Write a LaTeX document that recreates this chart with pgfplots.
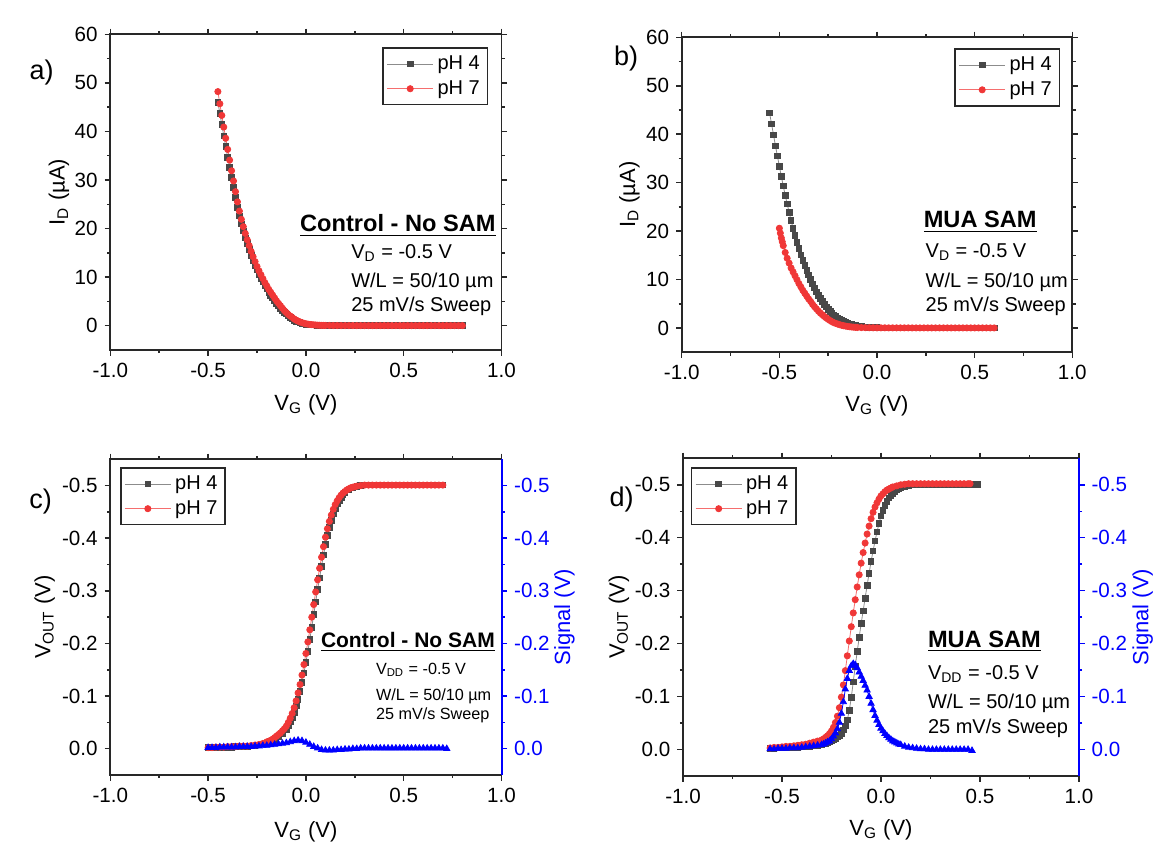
\documentclass[border=0pt]{standalone}
\usepackage{fontspec}
\setmainfont{Liberation Sans}
\usepackage{pgfplots}
\pgfplotsset{compat=1.18}
\definecolor{pgray}{RGB}{72,72,72}
\definecolor{pgrayl}{RGB}{140,140,140}
\definecolor{pred}{RGB}{240,55,55}
\definecolor{predl}{RGB}{245,110,110}
\definecolor{pblue}{RGB}{0,0,255}
\definecolor{axc}{RGB}{40,40,40}
\newcommand\pxy[2]{(#1*0.5pt, 423.5pt-#2*0.5pt)}
\pgfplotsset{
  panel/.style={
    scale only axis,
    xmin=-1, xmax=1,
    xtick={-1,-0.5,0,0.5,1},
    xticklabels={-1.0,-0.5,0.0,0.5,1.0},
    minor x tick num=1, minor y tick num=1,
    tick align=outside,
    major tick length=2.8pt, minor tick length=1.6pt,
    axis line style={axc, line width=0.9pt},
    after end axis/.append code={\draw[axc, line width=0.9pt] (rel axis cs:0,1) -- (rel axis cs:1,1) -- (rel axis cs:1,0);},
    tick style={axc, line width=0.75pt},
    tick label style={font=\fontsize{10.3}{12}\selectfont},
    label style={font=\fontsize{11}{13}\selectfont},
    xlabel={V\textsubscript{G} (V)},
    legend style={draw=axc, line width=0.75pt, font=\fontsize{10}{12}\selectfont, inner sep=1.8pt, cells={anchor=west}},
    legend cell align=left,
    legend image code/.code={\draw[mark repeat=2,mark phase=2,#1] plot coordinates {(0pt,0pt) (11.5pt,0pt) (23pt,0pt)};},
  },
  idpanel/.style={ymin=-5, ymax=60, ytick={0,10,20,30,40,50,60}, yticklabels={0,10,20,30,40,50,60}, ylabel={I\textsubscript{D} (µA)}},
  vpanel/.style={ymin=-0.55, ymax=0.05, y dir=reverse, ytick={-0.5,-0.4,-0.3,-0.2,-0.1,0}, yticklabels={-0.5,-0.4,-0.3,-0.2,-0.1,0.0}, ytick pos=left, ylabel={V\textsubscript{OUT} (V)}},
  sigaxis/.style={scale only axis, xmin=-1, xmax=1, ymin=-0.55, ymax=0.05, y dir=reverse,
    axis x line=none, axis y line*=right,
    ytick={-0.5,-0.4,-0.3,-0.2,-0.1,0}, yticklabels={-0.5,-0.4,-0.3,-0.2,-0.1,0.0},
    minor y tick num=1, tick align=outside, major tick length=2.8pt, minor tick length=1.6pt,
    y axis line style={-, pblue, line width=1pt},
    ytick style={pblue, line width=0.75pt},
    yticklabel style={pblue, font=\fontsize{10.3}{12}\selectfont},
    ylabel={Signal (V)}, ylabel style={pblue, font=\fontsize{11}{13}\selectfont, at={(axis description cs:1.161,0.5)}, anchor=center, rotate=0}},
  gr/.style={color=pgrayl, line width=0.4pt, mark=square*, mark size=1.4pt, mark options={solid, fill=pgray, draw=pgray}},
  rd/.style={color=predl, line width=0.4pt, mark=*, mark size=1.55pt, mark options={solid, fill=pred, draw=pred}},
  bl/.style={color=pblue, line width=0.4pt, mark=triangle*, mark size=1.8pt},
}
\begin{document}
\begin{tikzpicture}
\useasboundingbox (0,0) rectangle (580pt,423.5pt);

% ---------------- panel a ----------------
\begin{axis}[panel, idpanel, at={(55.15pt,248.5pt)}, anchor=south west, width=195.6pt, height=157.85pt,
  ylabel style={at={(axis description cs:-0.131,0.5)}, anchor=center},
  xlabel style={at={(axis description cs:0.5,-0.174)}, anchor=center},
  legend style={at={(0.966,0.959)}, anchor=north east}]
\addplot[gr] coordinates {(-0.45,46.0)(-0.44,43.7)(-0.43,41.4)(-0.42,39.1)(-0.41,36.9)(-0.40,34.7)(-0.39,32.6)(-0.38,30.5)(-0.37,28.5)(-0.36,26.4)(-0.35,24.4)(-0.34,22.6)(-0.33,21.0)(-0.32,19.5)(-0.31,18.1)(-0.30,16.9)(-0.29,15.7)(-0.28,14.5)(-0.27,13.4)(-0.26,12.4)(-0.25,11.5)(-0.24,10.6)(-0.23,9.8)(-0.22,9.0)(-0.21,8.3)(-0.20,7.6)(-0.19,6.9)(-0.18,6.3)(-0.17,5.7)(-0.16,5.1)(-0.15,4.6)(-0.14,4.1)(-0.13,3.6)(-0.12,3.2)(-0.11,2.8)(-0.10,2.4)(-0.09,2.0)(-0.08,1.7)(-0.07,1.4)(-0.06,1.15)(-0.05,0.95)(-0.04,0.78)(-0.03,0.63)(-0.02,0.50)(-0.01,0.40)(0.00,0.32)(0.02,0.20)(0.04,0.13)(0.06,0.09)(0.08,0.06)(0.10,0.05)(0.14,0.04)(0.18,0.03)(0.22,0.03)(0.26,0.02)(0.30,0.02)(0.34,0.02)(0.38,0.02)(0.42,0.02)(0.46,0.02)(0.50,0.02)(0.54,0.02)(0.58,0.02)(0.62,0.02)(0.66,0.02)(0.70,0.02)(0.74,0.02)(0.78,0.02)(0.80,0.02)};
\addlegendentry{pH 4}
\addplot[rd] coordinates {(-0.45,48.2)(-0.44,45.7)(-0.43,43.3)(-0.42,40.9)(-0.41,38.6)(-0.40,36.3)(-0.39,34.1)(-0.38,31.9)(-0.37,29.8)(-0.36,27.6)(-0.35,25.5)(-0.34,23.6)(-0.33,21.9)(-0.32,20.4)(-0.31,19.0)(-0.30,17.7)(-0.29,16.5)(-0.28,15.3)(-0.27,14.2)(-0.26,13.2)(-0.25,12.2)(-0.24,11.3)(-0.23,10.5)(-0.22,9.7)(-0.21,8.9)(-0.20,8.2)(-0.19,7.5)(-0.18,6.9)(-0.17,6.3)(-0.16,5.7)(-0.15,5.1)(-0.14,4.6)(-0.13,4.1)(-0.12,3.6)(-0.11,3.1)(-0.10,2.7)(-0.09,2.3)(-0.08,2.0)(-0.07,1.7)(-0.06,1.4)(-0.05,1.15)(-0.04,0.95)(-0.03,0.78)(-0.02,0.63)(-0.01,0.50)(0.00,0.40)(0.01,0.33)(0.02,0.27)(0.03,0.22)(0.04,0.18)(0.05,0.15)(0.06,0.12)(0.07,0.10)(0.08,0.08)(0.09,0.07)(0.10,0.06)(0.12,0.05)(0.14,0.04)(0.16,0.04)(0.18,0.03)(0.20,0.03)(0.22,0.03)(0.24,0.03)(0.26,0.02)(0.28,0.02)(0.30,0.02)(0.32,0.02)(0.34,0.02)(0.36,0.02)(0.38,0.02)(0.40,0.02)(0.42,0.02)(0.44,0.02)(0.46,0.02)(0.48,0.02)(0.50,0.02)(0.52,0.02)(0.54,0.02)(0.56,0.02)(0.58,0.02)(0.60,0.02)(0.62,0.02)(0.64,0.02)(0.66,0.02)(0.68,0.02)(0.70,0.02)(0.72,0.02)(0.74,0.02)(0.76,0.02)(0.78,0.02)(0.80,0.02)};
\addlegendentry{pH 7}
\end{axis}

% ---------------- panel b ----------------
\begin{axis}[panel, idpanel, at={(340.85pt,247.35pt)}, anchor=south west, width=195.3pt, height=157.5pt,
  ylabel style={at={(axis description cs:-0.134,0.5)}, anchor=center},
  xlabel style={at={(axis description cs:0.5,-0.170)}, anchor=center},
  legend style={at={(0.969,0.965)}, anchor=north east}]
\addplot[gr] coordinates {(-0.55,44.4)(-0.54,42.1)(-0.53,39.9)(-0.52,37.6)(-0.51,35.5)(-0.50,33.4)(-0.49,31.3)(-0.48,29.3)(-0.47,27.4)(-0.46,25.6)(-0.45,23.9)(-0.44,22.2)(-0.43,20.6)(-0.42,19.1)(-0.41,17.7)(-0.40,16.4)(-0.39,15.1)(-0.38,14.0)(-0.37,12.9)(-0.36,11.9)(-0.35,11.0)(-0.34,10.0)(-0.33,9.1)(-0.32,8.3)(-0.31,7.5)(-0.30,6.8)(-0.29,6.1)(-0.28,5.5)(-0.27,4.9)(-0.26,4.4)(-0.25,3.9)(-0.24,3.45)(-0.23,3.05)(-0.22,2.7)(-0.21,2.35)(-0.20,2.05)(-0.19,1.8)(-0.18,1.55)(-0.17,1.35)(-0.16,1.15)(-0.15,1.0)(-0.14,0.85)(-0.13,0.72)(-0.12,0.62)(-0.11,0.53)(-0.10,0.45)(-0.09,0.38)(-0.08,0.32)(-0.07,0.27)(-0.06,0.23)(-0.05,0.19)(-0.04,0.16)(-0.02,0.12)(0.00,0.09)(0.02,0.07)(0.04,0.06)(0.06,0.05)(0.10,0.04)(0.14,0.03)(0.18,0.03)(0.22,0.03)(0.26,0.03)(0.30,0.03)(0.34,0.03)(0.38,0.03)(0.42,0.03)(0.46,0.03)(0.50,0.03)(0.54,0.03)(0.58,0.03)(0.60,0.03)};
\addlegendentry{pH 4}
\addplot[rd] coordinates {(-0.50,20.6)(-0.495,19.6)(-0.49,18.6)(-0.485,17.8)(-0.48,17.0)(-0.47,15.6)(-0.46,14.4)(-0.45,13.4)(-0.44,12.4)(-0.43,11.6)(-0.42,10.8)(-0.41,10.0)(-0.40,9.2)(-0.39,8.5)(-0.38,7.8)(-0.37,7.2)(-0.36,6.6)(-0.35,6.0)(-0.34,5.5)(-0.33,4.9)(-0.32,4.4)(-0.31,3.95)(-0.30,3.5)(-0.29,3.1)(-0.28,2.75)(-0.27,2.4)(-0.26,2.1)(-0.25,1.8)(-0.24,1.55)(-0.23,1.3)(-0.22,1.1)(-0.21,0.95)(-0.20,0.8)(-0.19,0.68)(-0.18,0.57)(-0.17,0.48)(-0.16,0.40)(-0.15,0.33)(-0.14,0.27)(-0.13,0.22)(-0.12,0.18)(-0.11,0.15)(-0.10,0.12)(-0.08,0.10)(-0.06,0.08)(-0.04,0.07)(-0.02,0.06)(0.00,0.05)(0.02,0.05)(0.04,0.05)(0.06,0.04)(0.08,0.04)(0.10,0.04)(0.12,0.04)(0.14,0.04)(0.16,0.04)(0.18,0.03)(0.20,0.03)(0.22,0.03)(0.24,0.03)(0.26,0.03)(0.28,0.03)(0.30,0.03)(0.32,0.03)(0.34,0.03)(0.36,0.03)(0.38,0.03)(0.40,0.03)(0.42,0.03)(0.44,0.03)(0.46,0.03)(0.48,0.03)(0.50,0.03)(0.52,0.03)(0.54,0.03)(0.56,0.03)(0.58,0.03)(0.60,0.03)};
\addlegendentry{pH 7}
\end{axis}

% ---------------- panel c ----------------
\begin{axis}[panel, vpanel, at={(55.15pt,36pt)}, anchor=south west, width=195.6pt, height=157.85pt,
  ylabel style={at={(axis description cs:-0.168,0.5)}, anchor=center},
  xlabel style={at={(axis description cs:0.5,-0.18)}, anchor=center},
  legend style={at={(0.025,0.975)}, anchor=north west}]
\addplot[gr] coordinates {(-0.50,-0.002)(-0.48,-0.002)(-0.46,-0.002)(-0.44,-0.003)(-0.42,-0.003)(-0.40,-0.003)(-0.38,-0.003)(-0.36,-0.004)(-0.34,-0.004)(-0.32,-0.004)(-0.30,-0.004)(-0.28,-0.005)(-0.26,-0.005)(-0.24,-0.007)(-0.22,-0.009)(-0.20,-0.011)(-0.18,-0.014)(-0.16,-0.018)(-0.14,-0.023)(-0.12,-0.029)(-0.10,-0.037)(-0.09,-0.044)(-0.08,-0.052)(-0.07,-0.060)(-0.06,-0.069)(-0.05,-0.081)(-0.04,-0.094)(-0.03,-0.109)(-0.02,-0.126)(-0.01,-0.144)(0.00,-0.164)(0.01,-0.185)(0.02,-0.208)(0.03,-0.231)(0.04,-0.255)(0.05,-0.279)(0.06,-0.303)(0.07,-0.325)(0.08,-0.347)(0.09,-0.368)(0.10,-0.388)(0.11,-0.405)(0.12,-0.421)(0.13,-0.434)(0.14,-0.446)(0.15,-0.457)(0.16,-0.465)(0.17,-0.472)(0.18,-0.478)(0.19,-0.483)(0.20,-0.487)(0.22,-0.492)(0.24,-0.496)(0.26,-0.498)(0.28,-0.500)(0.30,-0.501)(0.34,-0.501)(0.38,-0.501)(0.42,-0.501)(0.46,-0.501)(0.50,-0.501)(0.54,-0.501)(0.58,-0.501)(0.62,-0.501)(0.66,-0.501)(0.70,-0.501)};
\addlegendentry{pH 4}
\addplot[rd] coordinates {(-0.50,-0.002)(-0.48,-0.002)(-0.46,-0.003)(-0.44,-0.003)(-0.42,-0.003)(-0.40,-0.004)(-0.38,-0.004)(-0.36,-0.004)(-0.34,-0.005)(-0.32,-0.005)(-0.30,-0.005)(-0.28,-0.006)(-0.26,-0.007)(-0.24,-0.008)(-0.22,-0.010)(-0.20,-0.013)(-0.19,-0.014)(-0.18,-0.016)(-0.17,-0.018)(-0.16,-0.021)(-0.15,-0.024)(-0.14,-0.027)(-0.13,-0.030)(-0.12,-0.034)(-0.11,-0.038)(-0.10,-0.043)(-0.09,-0.050)(-0.08,-0.058)(-0.07,-0.067)(-0.06,-0.078)(-0.05,-0.091)(-0.04,-0.106)(-0.03,-0.122)(-0.02,-0.140)(-0.01,-0.160)(0.00,-0.181)(0.01,-0.203)(0.02,-0.226)(0.03,-0.250)(0.04,-0.274)(0.05,-0.298)(0.06,-0.321)(0.07,-0.343)(0.08,-0.364)(0.09,-0.384)(0.10,-0.402)(0.11,-0.418)(0.12,-0.432)(0.13,-0.444)(0.14,-0.455)(0.15,-0.464)(0.16,-0.471)(0.17,-0.477)(0.18,-0.482)(0.19,-0.486)(0.20,-0.489)(0.21,-0.492)(0.22,-0.494)(0.23,-0.496)(0.24,-0.497)(0.25,-0.498)(0.26,-0.499)(0.28,-0.500)(0.30,-0.501)(0.32,-0.501)(0.34,-0.501)(0.36,-0.501)(0.38,-0.501)(0.40,-0.501)(0.42,-0.501)(0.44,-0.501)(0.46,-0.501)(0.48,-0.501)(0.50,-0.501)(0.52,-0.501)(0.54,-0.501)(0.56,-0.501)(0.58,-0.501)(0.60,-0.501)(0.62,-0.501)(0.64,-0.501)(0.66,-0.501)(0.68,-0.501)(0.70,-0.501)};
\addlegendentry{pH 7}
\end{axis}
\begin{axis}[sigaxis, at={(55.15pt,36pt)}, anchor=south west, width=195.6pt, height=157.85pt]
\addplot[bl] coordinates {(-0.50,-0.002)(-0.48,-0.002)(-0.46,-0.002)(-0.44,-0.003)(-0.42,-0.003)(-0.40,-0.003)(-0.38,-0.003)(-0.36,-0.003)(-0.34,-0.004)(-0.32,-0.004)(-0.30,-0.004)(-0.28,-0.004)(-0.26,-0.005)(-0.24,-0.005)(-0.22,-0.006)(-0.20,-0.006)(-0.18,-0.007)(-0.16,-0.008)(-0.14,-0.009)(-0.12,-0.010)(-0.10,-0.011)(-0.08,-0.013)(-0.06,-0.015)(-0.04,-0.016)(-0.02,-0.015)(0.00,-0.012)(0.02,-0.008)(0.04,-0.004)(0.06,-0.001)(0.08,0.002)(0.10,0.003)(0.12,0.003)(0.14,0.003)(0.16,0.002)(0.18,0.002)(0.20,0.001)(0.22,0.001)(0.24,0.000)(0.26,0.000)(0.28,-0.001)(0.30,-0.001)(0.32,-0.001)(0.34,-0.001)(0.36,-0.001)(0.38,-0.001)(0.40,-0.001)(0.42,-0.001)(0.44,-0.001)(0.46,-0.001)(0.48,-0.001)(0.50,-0.001)(0.52,-0.001)(0.54,-0.001)(0.56,-0.001)(0.58,-0.001)(0.60,-0.001)(0.62,-0.001)(0.64,-0.001)(0.66,-0.001)(0.68,-0.001)(0.70,-0.001)(0.72,0.000)};
\end{axis}

% ---------------- panel d ----------------
\begin{axis}[panel, vpanel, at={(341.5pt,35.5pt)}, anchor=south west, width=197.95pt, height=158.85pt,
  ylabel style={at={(axis description cs:-0.162,0.5)}, anchor=center},
  xlabel style={at={(axis description cs:0.5,-0.17)}, anchor=center},
  legend style={at={(0.02,0.972)}, anchor=north west}]
\addplot[gr] coordinates {(-0.56,-0.002)(-0.54,-0.002)(-0.52,-0.003)(-0.50,-0.003)(-0.48,-0.003)(-0.46,-0.004)(-0.44,-0.004)(-0.42,-0.004)(-0.40,-0.005)(-0.38,-0.005)(-0.36,-0.006)(-0.34,-0.007)(-0.32,-0.008)(-0.30,-0.010)(-0.29,-0.011)(-0.28,-0.012)(-0.27,-0.013)(-0.26,-0.015)(-0.25,-0.017)(-0.24,-0.019)(-0.23,-0.021)(-0.22,-0.024)(-0.21,-0.027)(-0.20,-0.031)(-0.19,-0.037)(-0.18,-0.045)(-0.17,-0.056)(-0.16,-0.074)(-0.15,-0.098)(-0.14,-0.128)(-0.13,-0.157)(-0.12,-0.185)(-0.11,-0.212)(-0.10,-0.238)(-0.09,-0.262)(-0.08,-0.286)(-0.07,-0.310)(-0.06,-0.333)(-0.05,-0.355)(-0.04,-0.375)(-0.03,-0.394)(-0.02,-0.411)(-0.01,-0.427)(0.00,-0.441)(0.01,-0.452)(0.02,-0.461)(0.03,-0.469)(0.04,-0.475)(0.05,-0.480)(0.06,-0.484)(0.07,-0.488)(0.08,-0.491)(0.09,-0.493)(0.10,-0.495)(0.12,-0.497)(0.14,-0.499)(0.16,-0.500)(0.18,-0.501)(0.20,-0.501)(0.22,-0.501)(0.24,-0.501)(0.26,-0.501)(0.28,-0.501)(0.30,-0.501)(0.32,-0.501)(0.34,-0.501)(0.36,-0.501)(0.38,-0.501)(0.40,-0.501)(0.42,-0.501)(0.44,-0.501)(0.46,-0.501)(0.48,-0.501)(0.49,-0.501)};
\addlegendentry{pH 4}
\addplot[rd] coordinates {(-0.56,-0.003)(-0.54,-0.004)(-0.52,-0.004)(-0.50,-0.005)(-0.48,-0.006)(-0.46,-0.006)(-0.44,-0.007)(-0.42,-0.008)(-0.40,-0.009)(-0.38,-0.010)(-0.36,-0.012)(-0.34,-0.014)(-0.32,-0.016)(-0.30,-0.018)(-0.29,-0.020)(-0.28,-0.023)(-0.27,-0.026)(-0.26,-0.030)(-0.25,-0.035)(-0.24,-0.042)(-0.23,-0.051)(-0.22,-0.063)(-0.21,-0.079)(-0.20,-0.099)(-0.19,-0.122)(-0.18,-0.149)(-0.17,-0.177)(-0.16,-0.205)(-0.15,-0.232)(-0.14,-0.258)(-0.13,-0.283)(-0.12,-0.307)(-0.11,-0.330)(-0.10,-0.352)(-0.09,-0.372)(-0.08,-0.390)(-0.07,-0.407)(-0.06,-0.422)(-0.05,-0.436)(-0.04,-0.448)(-0.03,-0.458)(-0.02,-0.466)(-0.01,-0.473)(0.00,-0.479)(0.01,-0.483)(0.02,-0.487)(0.03,-0.490)(0.04,-0.492)(0.05,-0.494)(0.06,-0.496)(0.08,-0.498)(0.10,-0.500)(0.12,-0.501)(0.14,-0.502)(0.16,-0.502)(0.18,-0.502)(0.20,-0.502)(0.22,-0.502)(0.24,-0.502)(0.26,-0.502)(0.28,-0.502)(0.30,-0.502)(0.32,-0.502)(0.34,-0.502)(0.36,-0.502)(0.38,-0.502)(0.40,-0.502)(0.42,-0.502)(0.44,-0.502)(0.45,-0.502)};
\addlegendentry{pH 7}
\end{axis}
\begin{axis}[sigaxis, at={(341.5pt,35.5pt)}, anchor=south west, width=197.95pt, height=158.85pt]
\addplot[bl] coordinates {(-0.56,-0.001)(-0.54,-0.001)(-0.52,-0.002)(-0.50,-0.002)(-0.48,-0.002)(-0.46,-0.003)(-0.44,-0.003)(-0.42,-0.003)(-0.40,-0.004)(-0.38,-0.005)(-0.36,-0.006)(-0.34,-0.007)(-0.32,-0.008)(-0.30,-0.009)(-0.29,-0.010)(-0.28,-0.012)(-0.27,-0.014)(-0.26,-0.016)(-0.25,-0.020)(-0.24,-0.025)(-0.23,-0.031)(-0.22,-0.039)(-0.21,-0.051)(-0.20,-0.068)(-0.19,-0.090)(-0.18,-0.114)(-0.17,-0.134)(-0.16,-0.149)(-0.15,-0.158)(-0.14,-0.162)(-0.13,-0.160)(-0.12,-0.154)(-0.11,-0.146)(-0.10,-0.138)(-0.09,-0.130)(-0.08,-0.121)(-0.07,-0.112)(-0.06,-0.100)(-0.05,-0.087)(-0.04,-0.075)(-0.03,-0.064)(-0.02,-0.055)(-0.01,-0.047)(0.00,-0.040)(0.01,-0.035)(0.02,-0.030)(0.03,-0.026)(0.04,-0.022)(0.05,-0.019)(0.06,-0.016)(0.07,-0.014)(0.08,-0.012)(0.09,-0.010)(0.10,-0.009)(0.12,-0.006)(0.14,-0.004)(0.16,-0.003)(0.18,-0.002)(0.20,-0.001)(0.22,-0.001)(0.24,0.000)(0.26,0.000)(0.28,0.000)(0.30,0.000)(0.32,0.000)(0.34,0.000)(0.36,0.000)(0.38,0.000)(0.40,0.000)(0.42,0.000)(0.44,0.000)(0.46,0.002)};
\end{axis}

% ---------------- panel letters ----------------
\node[font=\fontsize{13.5}{15}\selectfont] at \pxy{41.6}{73} {a)};
\node[font=\fontsize{13.5}{15}\selectfont] at \pxy{626.1}{59} {b)};
\node[font=\fontsize{13.5}{15}\selectfont] at \pxy{40.5}{502} {c)};
\node[font=\fontsize{13.5}{15}\selectfont] at \pxy{621.6}{500} {d)};

% ---------------- annotations ----------------
\node[anchor=base west, inner sep=0pt, font=\fontsize{11.8}{13}\selectfont] at \pxy{299.8}{232} {\underline{\textbf{Control - No SAM}}};
\node[anchor=base west, inner sep=0pt, font=\fontsize{10}{12}\selectfont] at \pxy{350.9}{259} {V\textsubscript{D} = -0.5 V};
\node[anchor=base west, inner sep=0pt, font=\fontsize{10}{12}\selectfont] at \pxy{350.9}{288} {W/L = 50/10 µm};
\node[anchor=base west, inner sep=0pt, font=\fontsize{10}{12}\selectfont] at \pxy{350.9}{312} {25 mV/s Sweep};

\node[anchor=base west, inner sep=0pt, font=\fontsize{11.8}{13}\selectfont] at \pxy{923.4}{228} {\underline{\textbf{MUA SAM}}};
\node[anchor=base west, inner sep=0pt, font=\fontsize{10}{12}\selectfont] at \pxy{925.3}{258} {V\textsubscript{D} = -0.5 V};
\node[anchor=base west, inner sep=0pt, font=\fontsize{10}{12}\selectfont] at \pxy{925.3}{288} {W/L = 50/10 µm};
\node[anchor=base west, inner sep=0pt, font=\fontsize{10}{12}\selectfont] at \pxy{925.3}{312} {25 mV/s Sweep};

\node[anchor=base west, inner sep=0pt, font=\fontsize{10.5}{12}\selectfont] at \pxy{320.6}{647.7} {\underline{\textbf{Control - No SAM}}};
\node[anchor=base west, inner sep=0pt, font=\fontsize{8.1}{10}\selectfont] at \pxy{375.6}{674} {V\textsubscript{DD} = -0.5 V};
\node[anchor=base west, inner sep=0pt, font=\fontsize{8.1}{10}\selectfont] at \pxy{375.6}{700} {W/L = 50/10 µm};
\node[anchor=base west, inner sep=0pt, font=\fontsize{8.1}{10}\selectfont] at \pxy{375.6}{719.3} {25 mV/s Sweep};

\node[anchor=base west, inner sep=0pt, font=\fontsize{11.8}{13}\selectfont] at \pxy{927.6}{647.7} {\underline{\textbf{MUA SAM}}};
\node[anchor=base west, inner sep=0pt, font=\fontsize{10}{12}\selectfont] at \pxy{927.6}{679.3} {V\textsubscript{DD} = -0.5 V};
\node[anchor=base west, inner sep=0pt, font=\fontsize{10}{12}\selectfont] at \pxy{927.6}{708.3} {W/L = 50/10 µm};
\node[anchor=base west, inner sep=0pt, font=\fontsize{10}{12}\selectfont] at \pxy{927.6}{733.3} {25 mV/s Sweep};
\end{tikzpicture}
\end{document}
